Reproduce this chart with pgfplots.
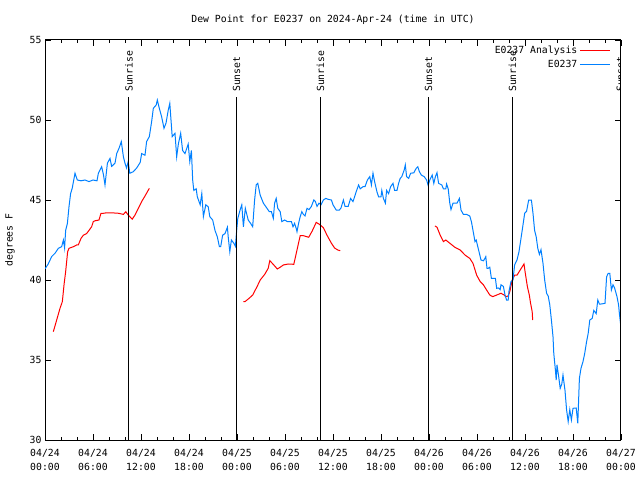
\documentclass[border=0pt]{standalone}
\usepackage{pgfplots}
\pgfplotsset{compat=1.18}
\usepackage{fontspec}
\setmainfont{DejaVu Sans Mono}
\definecolor{obsblue}{RGB}{0,128,255}
\definecolor{anared}{RGB}{255,0,0}

\begin{document}
\fontsize{9.8}{14}\selectfont
\begin{tikzpicture}
\useasboundingbox (0,0) rectangle (640pt,480pt);
\begin{axis}[
    at={(45pt,40pt)}, anchor=south west,
    scale only axis, width=576pt, height=400pt,
    xmin=0, xmax=72, ymin=30, ymax=55,
    xtick={0,6,...,72},
    xticklabels={{04/24\\00:00},{04/24\\06:00},{04/24\\12:00},{04/24\\18:00},
                 {04/25\\00:00},{04/25\\06:00},{04/25\\12:00},{04/25\\18:00},
                 {04/26\\00:00},{04/26\\06:00},{04/26\\12:00},{04/26\\18:00},
                 {04/27\\00:00}},
    minor x tick num=2,
    ytick={30,35,...,55},
    tick align=inside,
    major tick length=6pt, minor tick length=3pt,
    tick style={black, line width=0.8pt},
    axis line style={line width=1pt},
    xticklabel style={align=center, yshift=-6pt},
    /pgf/number format/assume math mode=true,
    ylabel={degrees F},
    ylabel style={at={(axis description cs:-0.061,0.5)}, anchor=center},
    title={Dew Point for E0237 on 2024-Apr-24 (time in UTC)},
    title style={at={(0.5,1)}, anchor=base, yshift=11pt},
    unbounded coords=jump,
    legend plot pos=right,
    legend cell align=right,
    legend image code/.code={\draw[#1] (3pt,0pt) -- (33pt,0pt);},
    legend style={draw=none, fill=none, at={(axis cs:70.7,54.75)}, anchor=north east,
                  inner sep=0pt, row sep=1pt},
]
% analysis (three runs)
\addplot[color=anared, line width=1pt] coordinates {
    (1.04,36.77) (1.46,37.5) (1.875,38.23) (2.17,38.65) (2.4,39.8) (2.58,40.52)
    (2.83,41.77) (3.0,41.98) (3.54,42.08) (3.96,42.19) (4.17,42.2) (4.5,42.6)
    (4.8,42.8) (5.2,42.9) (5.5,43.1) (5.83,43.33) (6.04,43.65) (6.25,43.7)
    (6.75,43.75) (7.0,44.17) (7.3,44.17) (7.7,44.2) (8.3,44.2) (9.2,44.17)
    (9.8,44.1) (10.1,44.27) (10.4,44.06) (10.9,43.8) (11.25,44.06) (11.67,44.48)
    (12.08,44.9) (12.5,45.25) (13.04,45.73)
    (18,nan)
    (24.8,38.65) (25.0,38.65) (25.5,38.85) (25.96,39.06) (26.5,39.58) (26.9,40.0)
    (27.46,40.35) (27.9,40.73) (28.1,41.21) (28.6,40.94) (29.04,40.69) (29.4,40.8)
    (29.8,40.94) (30.4,41.0) (31.1,40.98) (31.5,41.875) (31.9,42.77) (32.3,42.77)
    (32.96,42.67) (33.4,43.06) (33.9,43.6) (34.3,43.48) (34.8,43.27) (35.25,42.8)
    (35.8,42.3) (36.2,42.0) (36.6,41.875) (36.9,41.83)
    (42,nan)
    (48.75,43.375) (49.0,43.3) (49.4,42.8) (49.8,42.4) (50.1,42.5) (50.6,42.3)
    (51.25,42.04) (51.9,41.875) (52.5,41.56) (53.1,41.35) (53.5,41.04) (53.96,40.3)
    (54.4,39.9) (54.8,39.7) (55.2,39.375) (55.6,39.06) (55.96,38.96) (56.46,39.06)
    (57.0,39.17) (57.4,39.06) (57.6,38.96) (57.9,39.0) (58.1,39.27) (58.4,40.0)
    (58.7,40.3) (59.0,40.3) (59.4,40.625) (59.875,41.0) (60.04,40.42) (60.3,39.58)
    (60.54,39.06) (60.7,38.54) (60.9,38.02) (60.96,37.5)
};
\addlegendentry{E0237 Analysis}

% observations
\addplot[color=obsblue, line width=1pt] coordinates {
    (0.0,40.7) (0.4,41.0) (0.83,41.46) (1.25,41.67) (1.67,41.98) (2.08,42.08)
    (2.3,42.5) (2.45,42.0) (2.58,43.1) (2.8,43.54) (3.0,44.58) (3.2,45.4)
    (3.4,45.73) (3.75,46.67) (4.04,46.25) (4.5,46.2) (5.0,46.25) (5.5,46.15)
    (6.0,46.25) (6.5,46.2) (6.67,46.67) (7.08,47.08) (7.3,46.6) (7.5,45.94)
    (7.8,47.3) (8.125,47.6) (8.33,47.1) (8.75,47.3) (8.96,47.9) (9.25,48.23)
    (9.54,48.65) (9.8,47.7) (10.0,47.3) (10.2,47.0) (10.4,47.4) (10.6,46.67)
    (11.04,46.77) (11.46,47.0) (11.9,47.35) (12.08,47.9) (12.5,47.8) (12.7,48.65)
    (13.04,48.96) (13.33,49.9) (13.54,50.73) (13.9,50.94) (14.04,51.25) (14.29,50.73)
    (14.58,50.2) (14.875,49.48) (15.125,49.8) (15.4,50.6) (15.6,51.04) (15.75,50.0)
    (15.9,48.96) (16.25,49.17) (16.46,47.7) (16.67,48.5) (16.96,49.17) (17.2,48.1)
    (17.5,47.9) (17.9,48.5) (18.1,47.4) (18.3,48.1) (18.46,46.25) (18.6,45.6)
    (18.9,45.7) (19.04,45.2) (19.4,44.7) (19.6,45.4) (19.8,43.96) (20.1,44.7)
    (20.4,44.58) (20.6,43.96) (20.96,43.75) (21.25,43.1) (21.54,42.7) (21.8,42.08)
    (21.96,42.08) (22.2,42.8) (22.5,42.9) (22.8,43.3) (22.9,42.7) (23.1,41.77)
    (23.3,42.5) (23.6,42.3) (23.8,42.1) (23.96,43.1) (24.1,43.85) (24.4,44.4)
    (24.6,44.7) (24.8,43.33) (25.04,44.48) (25.4,43.75) (25.7,43.54) (25.96,43.33)
    (26.2,45.0) (26.4,45.94) (26.6,46.04) (26.9,45.3) (27.3,44.8) (27.75,44.48)
    (28.04,44.27) (28.3,44.27) (28.54,43.85) (28.7,44.8) (28.9,45.1) (29.1,44.48)
    (29.4,44.27) (29.6,43.65) (29.96,43.75) (30.3,43.65) (30.8,43.65) (31.0,43.33)
    (31.2,43.54) (31.4,43.23) (31.5,43.02) (31.7,43.54) (31.9,43.96) (32.1,44.27)
    (32.3,44.1) (32.5,44.0) (32.75,44.48) (33.0,44.4) (33.3,44.6) (33.6,45.0)
    (33.8,44.9) (34.0,44.6) (34.25,44.8) (34.5,44.7) (34.8,45.0) (35.1,45.1)
    (35.4,45.04) (35.8,45.0) (36.0,44.7) (36.4,44.375) (36.8,44.375) (37.0,44.5)
    (37.3,45.0) (37.5,44.6) (37.9,44.6) (38.2,45.1) (38.5,44.9) (38.7,45.2)
    (38.9,45.52) (39.2,45.94) (39.4,45.7) (39.75,45.83) (40.0,45.83) (40.3,46.25)
    (40.6,46.46) (40.8,45.94) (41.0,46.67) (41.2,46.15) (41.5,45.5) (41.7,45.2)
    (42.0,45.2) (42.1,45.6) (42.3,45.1) (42.55,44.8) (42.7,45.6) (42.95,45.4)
    (43.2,45.83) (43.5,46.04) (43.7,45.6) (44.0,45.6) (44.2,46.04) (44.4,46.35)
    (44.6,46.46) (44.9,46.875) (45.04,47.19) (45.2,46.46) (45.46,46.35) (45.7,46.67)
    (46.1,46.7) (46.4,46.98) (46.6,47.08) (46.8,46.77) (47.04,46.56) (47.4,46.46)
    (47.7,46.25) (47.9,45.9) (48.1,46.25) (48.4,46.56) (48.6,46.04) (48.8,46.46)
    (49.0,46.71) (49.2,46.04) (49.6,45.94) (49.8,45.7) (50.1,45.7) (50.2,46.0)
    (50.4,45.7) (50.6,44.8) (50.75,44.4) (51.0,44.8) (51.5,44.8) (51.8,45.1)
    (52.0,44.375) (52.3,44.1) (52.7,44.1) (53.1,44.0) (53.3,43.65) (53.5,43.1)
    (53.75,42.4) (53.9,42.5) (54.1,42.08) (54.3,41.67) (54.5,41.25) (54.8,41.2)
    (55.0,41.35) (55.1,41.46) (55.25,40.73) (55.4,40.73) (55.6,40.8) (55.8,40.1)
    (56.0,40.1) (56.3,40.1) (56.46,39.48) (56.7,39.5) (56.9,39.4) (57.0,39.7)
    (57.3,39.6) (57.5,39.06) (57.7,38.75) (57.9,38.75) (58.0,39.3) (58.25,39.9)
    (58.5,40.0) (58.7,40.94) (59.0,41.25) (59.25,41.77) (59.5,42.6) (59.75,43.44)
    (59.96,44.17) (60.2,44.3) (60.46,45.0) (60.8,45.0) (61.0,44.17) (61.2,43.1)
    (61.4,42.7) (61.6,41.98) (61.8,41.6) (62.0,41.9) (62.25,41.04) (62.46,40.0)
    (62.7,39.17) (62.9,39.0) (63.1,38.44) (63.3,37.5) (63.5,36.46) (63.6,35.4)
    (63.8,34.375) (63.9,33.75) (64.0,34.7) (64.2,34.0) (64.4,33.23) (64.6,33.5)
    (64.75,34.06) (65.0,33.1) (65.2,31.875) (65.4,31.15) (65.6,31.9) (65.8,31.25)
    (66.0,31.98) (66.4,32.0) (66.6,31.04) (66.8,33.85) (67.0,34.48) (67.25,34.9)
    (67.46,35.4) (67.7,36.15) (67.9,36.67) (68.1,37.5) (68.4,37.6) (68.6,38.1)
    (68.9,37.9) (69.1,38.75) (69.3,38.5) (69.5,38.5) (70.0,38.54) (70.2,40.2)
    (70.4,40.42) (70.6,40.42) (70.8,39.375) (71.0,39.7) (71.2,39.5) (71.5,38.96)
    (71.7,38.44) (71.8,37.9) (71.96,37.2)
};
\addlegendentry{E0237}

% sunrise / sunset markers
\addplot[black, line width=1pt, forget plot] coordinates {(10.5,30) (10.5,51.45)};
\addplot[black, line width=1pt, forget plot] coordinates {(23.94,30) (23.94,51.45)};
\addplot[black, line width=1pt, forget plot] coordinates {(34.44,30) (34.44,51.45)};
\addplot[black, line width=1pt, forget plot] coordinates {(47.94,30) (47.94,51.45)};
\addplot[black, line width=1pt, forget plot] coordinates {(58.44,30) (58.44,51.45)};
\addplot[black, line width=1pt, forget plot] coordinates {(71.9,30) (71.9,51.45)};
\node[rotate=90, anchor=west, inner sep=0pt] at (axis cs:10.5,51.75) {Sunrise};
\node[rotate=90, anchor=west, inner sep=0pt] at (axis cs:23.94,51.75) {Sunset};
\node[rotate=90, anchor=west, inner sep=0pt] at (axis cs:34.44,51.75) {Sunrise};
\node[rotate=90, anchor=west, inner sep=0pt] at (axis cs:47.94,51.75) {Sunset};
\node[rotate=90, anchor=west, inner sep=0pt] at (axis cs:58.44,51.75) {Sunrise};
\node[rotate=90, anchor=west, inner sep=0pt] at (axis cs:71.9,51.75) {Sunset};
\end{axis}
\end{tikzpicture}
\end{document}
